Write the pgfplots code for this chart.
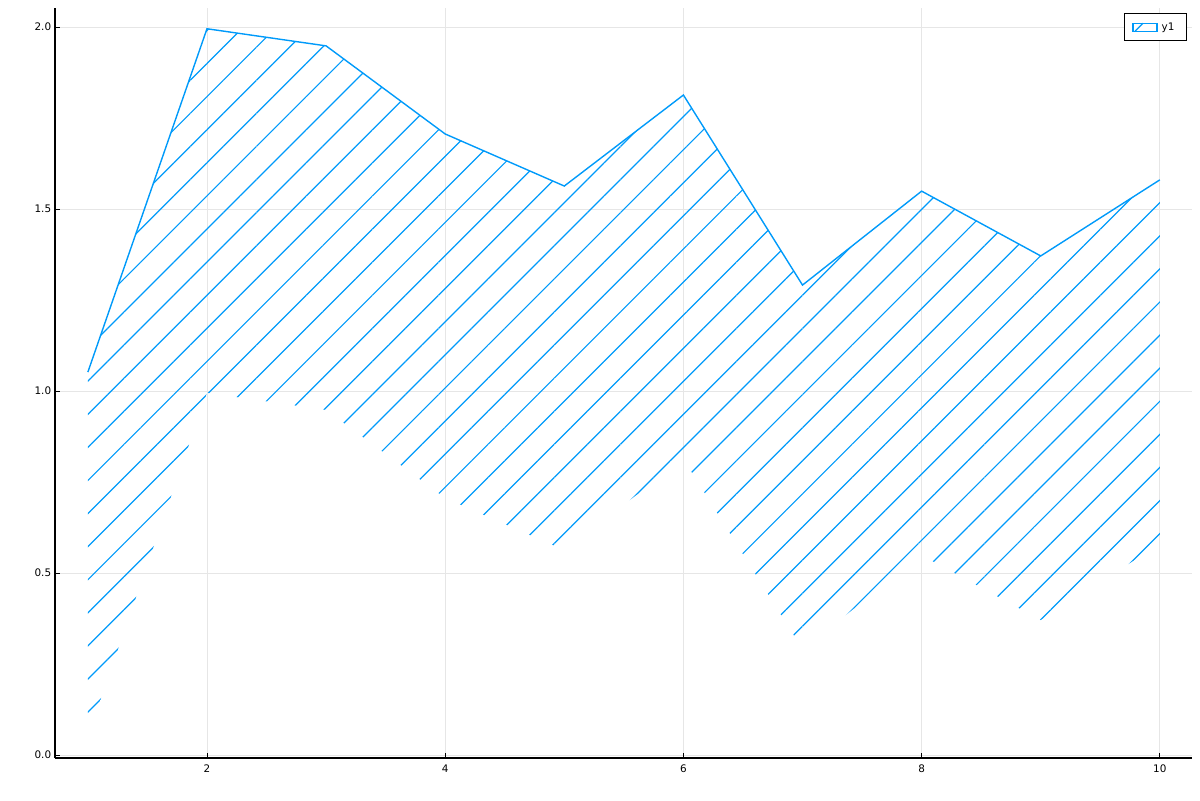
\documentclass[border=0pt]{standalone}
\usepackage{fontspec}
\setmainfont{DejaVu Sans}
\usepackage{pgfplots}
\pgfplotsset{compat=1.18}
\usepgfplotslibrary{fillbetween}
\usetikzlibrary{patterns.meta}
\definecolor{c1}{HTML}{009AFA}
\definecolor{gridc}{HTML}{E6E6E6}
\begin{document}
\fontsize{5.2}{6}\selectfont
\begin{tikzpicture}
\path (0,0) rectangle (600pt,400pt);
\begin{axis}[
  at={(27.5pt,21pt)}, anchor=south west,
  scale only axis, width=568.5pt, height=375pt,
  xmin=0.724, xmax=10.27, ymin=-0.008, ymax=2.052,
  axis x line*=bottom, axis y line*=left,
  axis line style={line width=0.6pt, -},
  xtick={2,4,6,8,10}, ytick={0,0.5,1,1.5,2},
  yticklabel style={/pgf/number format/.cd, fixed, fixed zerofill, precision=1},
  /pgf/number format/assume math mode=true,
  tick align=inside, major tick length=2.5pt,
  tick style={black, line width=0.4pt},
  grid=major, major grid style={gridc, line width=0.4pt},
  ticklabel style={font=\fontsize{5.2}{6}\selectfont},
  xticklabel style={yshift=-1.5pt},
  legend style={at={(1,1)}, anchor=north east, xshift=-2.5pt, yshift=-2.5pt,
    draw=black, line width=0.6pt, font=\fontsize{5.2}{6}\selectfont,
    inner xsep=4pt, inner ysep=2.5pt},
  legend cell align=left,
]
\addplot[name path=upper, c1, line width=0.7pt, forget plot] coordinates {
(1,1.052) (2,1.995) (3,1.948) (4,1.706) (5,1.563) (6,1.813) (7,1.291) (8,1.549) (9,1.371) (10,1.580)};
\addplot[name path=lower, draw=none, forget plot] coordinates {
(1,0.052) (2,0.995) (3,0.948) (4,0.706) (5,0.563) (6,0.813) (7,0.291) (8,0.549) (9,0.371) (10,0.580)};
\addplot[draw=none, pattern={Lines[angle=45,distance=11.7pt,line width=0.6pt]}, pattern color=c1, forget plot]
  fill between[of=upper and lower];
\addlegendimage{legend image code/.code={\draw[c1, line width=0.6pt, fill=white] (0pt,-2pt) rectangle (12pt,2pt); \draw[c1, line width=0.6pt] (1pt,-2pt) -- (5pt,2pt);}}
\addlegendentry{y1}
\end{axis}
\end{tikzpicture}
\end{document}
